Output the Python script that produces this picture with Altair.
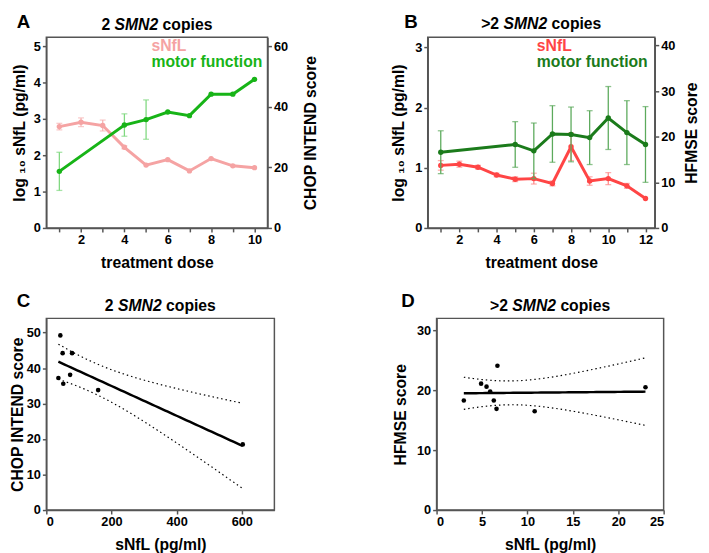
import altair as alt
import numpy as np
import pandas as pd

FONT = "Liberation Sans"
AX = "#555555"

# ---------------- Panel A (2 SMN2 copies) ----------------
doseA = [1, 2, 3, 4, 5, 6, 7, 8, 9, 10]
snflA = [2.79, 2.91, 2.82, 2.22, 1.73, 1.88, 1.57, 1.91, 1.71, 1.66]
snflA_err = [0.09, 0.12, 0.15, 0.04, 0.0, 0.0, 0.0, 0.0, 0.0, 0.0]
doseA_motor = [1, 4, 5, 6, 7, 8, 9, 10]
motorA = [18.7, 34.0, 35.8, 38.3, 37.1, 44.2, 44.2, 49.1]
motorA_err = [6.3, 3.7, 6.5, 0.0, 0.0, 0.0, 0.0, 0.0]

# ---------------- Panel B (>2 SMN2 copies) ----------------
doseB = [1, 2, 3, 4, 5, 6, 7, 8, 9, 10, 11, 12]
snflB = [1.04, 1.06, 1.01, 0.88, 0.81, 0.82, 0.74, 1.35, 0.78, 0.82, 0.70, 0.49]
snflB_err = [0.08, 0.05, 0.03, 0.03, 0.04, 0.09, 0.04, 0.23, 0.07, 0.10, 0.04, 0.0]
doseB_motor = [1, 5, 6, 7, 8, 9, 10, 11, 12]
motorB = [16.6, 18.3, 16.9, 20.6, 20.5, 19.8, 24.1, 20.9, 18.3]
motorB_err = [4.7, 5.0, 6.1, 6.2, 6.0, 5.9, 6.9, 7.0, 8.3]

# ---------------- Panel C ----------------
snflC = [43, 50, 79, 37, 73, 52, 159, 603]
chopC = [49.2, 44.2, 44.2, 37.2, 38.1, 35.6, 33.8, 18.5]

# ---------------- Panel D ----------------
snflD = [3.0, 4.9, 5.5, 5.9, 6.3, 6.6, 6.7, 10.8, 23.0]
hfmseD = [18.3, 21.1, 20.6, 19.8, 18.3, 16.9, 24.1, 16.5, 20.5]

EM = {"2": 0.556, ">": 0.584}


def txt(s, x, y, size=16, color="black", italic=False, align="left", baseline="alphabetic"):
    return alt.Chart(pd.DataFrame({"t": [s]})).mark_text(
        align=align, baseline=baseline, font=FONT, fontSize=size,
        fontWeight="bold", fontStyle="italic" if italic else "normal", color=color
    ).encode(x=alt.value(x), y=alt.value(y), text="t:N")


def smn_title(prefix, W, y, size=16):
    pre = sum(EM[c] for c in prefix) * size
    sp = 0.278 * size
    smn = 2.778 * size
    cop = 3.168 * size
    total = pre + sp + smn + sp + cop
    x0 = W / 2 - total / 2
    return [txt(prefix, x0, y, size),
            txt("SMN2", x0 + pre + sp, y, size, italic=True),
            txt("copies", x0 + pre + sp + smn + sp, y, size)]


def dual(dose_s, snfl, snfl_err, dose_m, motor, motor_err, W, H, xdom, xticks,
         ydomL, yvalsL, ydomR, yvalsR, rtitle, cs, cse, cm, cme,
         letter, lx, ly, prefix, ty, legx, legy1, legy2, tpad, rtpad):
    ds = pd.DataFrame({"dose": dose_s, "v": snfl,
                       "lo": [a - b for a, b in zip(snfl, snfl_err)],
                       "hi": [a + b for a, b in zip(snfl, snfl_err)],
                       "e": snfl_err})
    dm = pd.DataFrame({"dose": dose_m, "v": motor,
                       "lo": [a - b for a, b in zip(motor, motor_err)],
                       "hi": [a + b for a, b in zip(motor, motor_err)],
                       "e": motor_err})
    X = alt.X("dose:Q", scale=alt.Scale(domain=xdom, nice=False, zero=False),
              axis=alt.Axis(values=xticks,
                            labelExpr="datum.value % 2 == 0 ? datum.label : ''",
                            title="treatment dose"))

    def YL(f):
        return alt.Y(f"{f}:Q", scale=alt.Scale(domain=ydomL, nice=False, zero=False),
                     axis=alt.Axis(values=yvalsL, title="log ₁₀ sNfL (pg/ml)", titlePadding=tpad))

    def YR(f):
        return alt.Y(f"{f}:Q", scale=alt.Scale(domain=ydomR, nice=False, zero=False),
                     axis=alt.Axis(values=yvalsR, title=rtitle, orient="right",
                                   titleAngle=270, titleBaseline="top", titlePadding=rtpad))

    def group(df, Y, c, ce):
        b = alt.Chart(df).encode(x=X)
        be = b.transform_filter("datum.e > 0")
        return alt.layer(
            be.mark_rule(color=ce, strokeWidth=1.3).encode(y=Y("lo"), y2="hi:Q"),
            be.mark_tick(orient="horizontal", color=ce, size=6, thickness=1.3).encode(y=Y("lo")),
            be.mark_tick(orient="horizontal", color=ce, size=6, thickness=1.3).encode(y=Y("hi")),
            b.mark_line(color=c, strokeWidth=3).encode(y=Y("v")),
            b.mark_circle(color=c, size=30, opacity=1).encode(y=Y("v")),
        )

    texts = [txt(letter, lx, ly, 19, baseline="top")] + smn_title(prefix, W, ty) + [
        txt("sNfL", legx, legy1, 16, color=cs),
        txt("motor function", legx, legy2, 16, color=cm),
    ]
    return alt.layer(group(ds, YL, cs, cse), group(dm, YR, cm, cme), *texts).resolve_scale(
        y="independent").properties(width=W, height=H)


def fit_table(x, y, tval, n_pts=60):
    x = np.array(x, dtype=float)
    y = np.array(y, dtype=float)
    n = len(x)
    b, a = np.polyfit(x, y, 1)
    xs = np.linspace(x.min(), x.max(), n_pts)
    yhat = a + b * xs
    resid = y - (a + b * x)
    s = np.sqrt((resid ** 2).sum() / (n - 2))
    sxx = ((x - x.mean()) ** 2).sum()
    half = tval * s * np.sqrt(1.0 / n + (xs - x.mean()) ** 2 / sxx)
    return pd.DataFrame({"xs": xs, "yhat": yhat, "lo": yhat - half, "hi": yhat + half})


def scatter(xs, ys, tval, W, H, xdom, xvals, ydom, yvals, ytitle,
            letter, lx, ly, prefix, ty, tpad):
    df = pd.DataFrame({"x": xs, "y": ys})
    ft = fit_table(xs, ys, tval)

    def X(f):
        return alt.X(f"{f}:Q", scale=alt.Scale(domain=xdom, nice=False, zero=False),
                     axis=alt.Axis(values=xvals, title="sNfL (pg/ml)"))

    def Y(f):
        return alt.Y(f"{f}:Q", scale=alt.Scale(domain=ydom, nice=False, zero=False),
                     axis=alt.Axis(values=yvals, title=ytitle, titlePadding=tpad))

    band = alt.Chart(ft)
    layers = [
        band.mark_line(color="black", strokeWidth=1.2, strokeDash=[1.5, 3]).encode(x=X("xs"), y=Y("lo")),
        band.mark_line(color="black", strokeWidth=1.2, strokeDash=[1.5, 3]).encode(x=X("xs"), y=Y("hi")),
        band.mark_line(color="black", strokeWidth=2.5).encode(x=X("xs"), y=Y("yhat")),
        alt.Chart(df).mark_circle(color="black", size=22, opacity=1).encode(x=X("x"), y=Y("y")),
    ]
    texts = [txt(letter, lx, ly, 19, baseline="top")] + smn_title(prefix, W, ty)
    return alt.layer(*layers, *texts).properties(width=W, height=H)


HA = 194
panelA = dual(doseA, snflA, snflA_err, doseA_motor, motorA, motorA_err, 225, HA,
              [0.4, 10.6], doseA, [0, 5.25], [0, 1, 2, 3, 4, 5], [0, 63], [0, 20, 40, 60],
              "CHOP INTEND score", "#F5A3A3", "#F7B5B5", "#17B417", "#80D880",
              "A", -30, -24, "2", -7, 107, 14, 30, 6, 15)

panelB = dual(doseB, snflB, snflB_err, doseB_motor, motorB, motorB_err, 231, HA,
              [0.3, 12.5], doseB, [0, 3.17], [0, 1, 2, 3], [0, 41.8], [0, 10, 20, 30, 40],
              "HFMSE score", "#FF4545", "#FF8C8C", "#1B7B1B", "#5CAA5C",
              "B", -24, -24, ">2", -8, 111, 14, 30, 8, 9)

panelC = scatter(snflC, chopC, 2.447, 232, 195, [0, 700], [0, 200, 400, 600],
                 [0, 54], [0, 10, 20, 30, 40, 50], "CHOP INTEND score",
                 "C", -30, -27, "2", -8, 1)

panelD = scatter(snflD, hfmseD, 2.365, 231, 195, [0, 25], [0, 5, 10, 15, 20, 25],
                 [0, 32], [0, 10, 20, 30], "HFMSE score",
                 "D", -36, -27, ">2", -8, 8)

row1 = alt.hconcat(panelA, panelB, spacing=163, bounds="flush")
row2 = alt.hconcat(panelC, panelD, spacing=165, bounds="flush")

chart = alt.vconcat(row1, row2, spacing=286, bounds="flush").properties(
    padding=0, background="white"
).configure_view(
    stroke=AX, strokeWidth=1.5
).configure_axis(
    grid=False, domainColor=AX, domainWidth=1.5, tickColor=AX, tickWidth=1.5,
    tickSize=4, labelFont=FONT, labelFontSize=13, labelFontWeight="bold",
    labelColor="black", titleFont=FONT, titleFontSize=16, titleFontWeight="bold",
    titleColor="black", labelPadding=2, titlePadding=8
)

chart.save("out.html", embed_options={"renderer": "svg", "actions": False})
